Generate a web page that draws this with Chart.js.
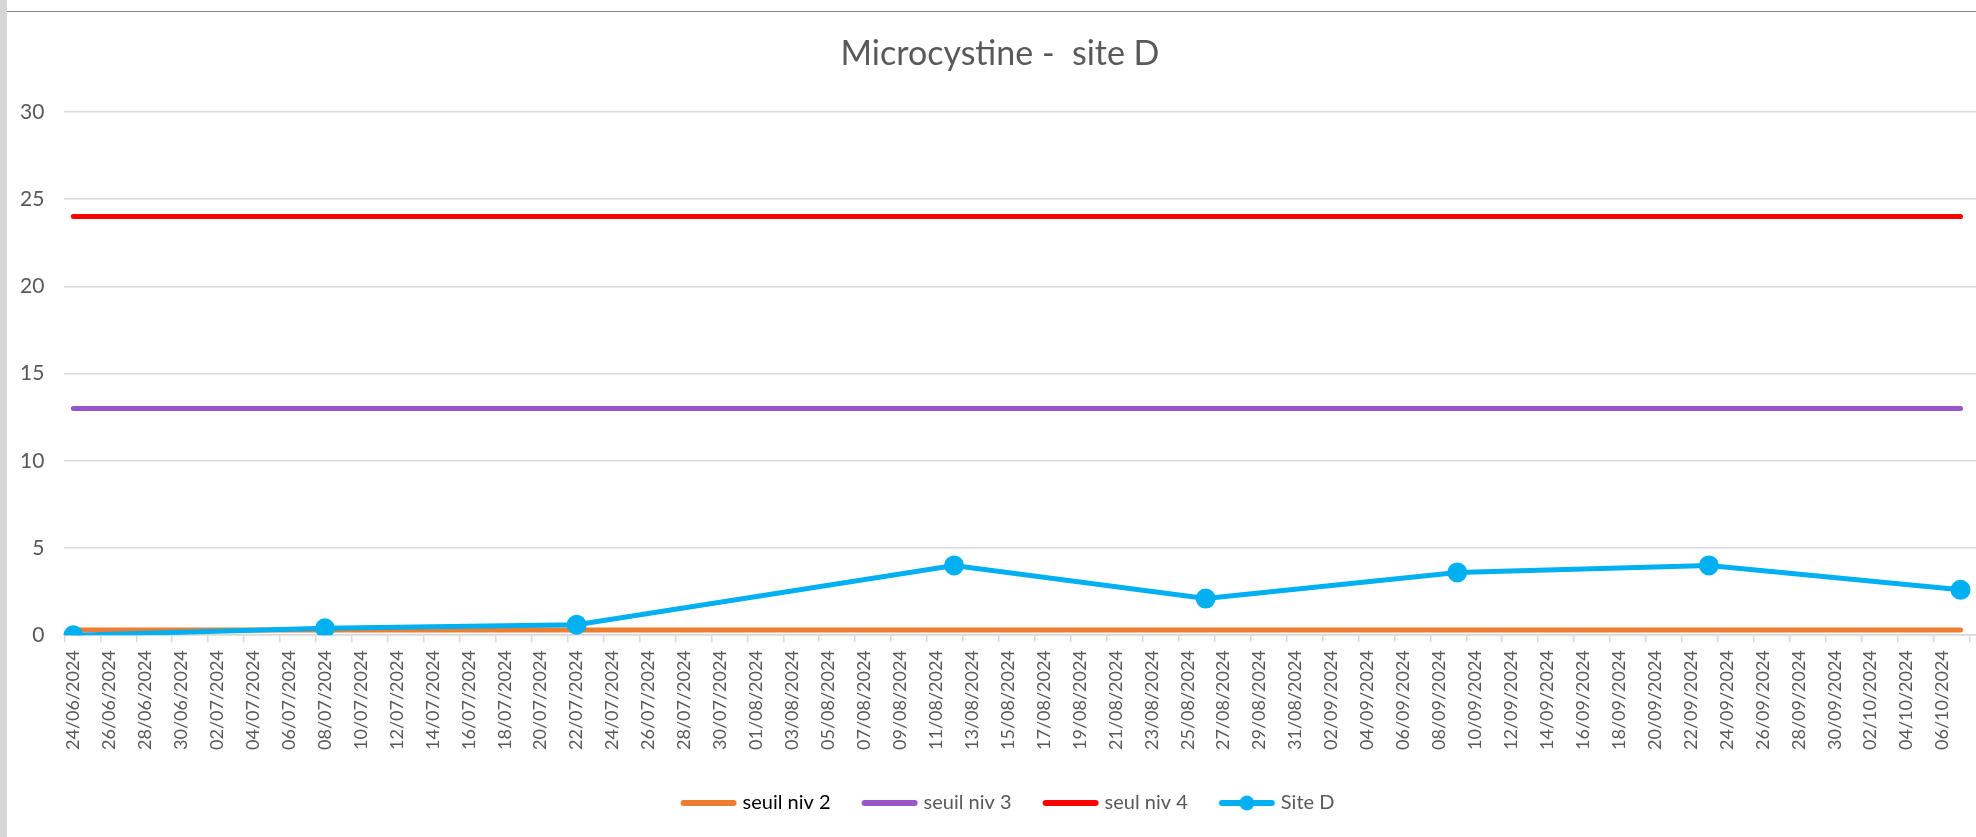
<!DOCTYPE html>
<html lang="fr">
<head>
<meta charset="utf-8">
<title>Microcystine - site D</title>
<script src="https://cdn.jsdelivr.net/npm/chart.js@4.4.1/dist/chart.umd.min.js"></script>
<style>
  html, body { margin: 0; padding: 0; background: #fff; }
  #wrap { position: relative; width: 1976px; height: 837px; overflow: hidden; }
  #strip { position: absolute; left: 0; top: 0; width: 7px; height: 837px; background: #d6d6d6; }
  #topline { position: absolute; left: 7px; right: 0; top: 11px; height: 0; border-top: 1px solid #8a8a8a; }
  canvas { position: absolute; left: 0; top: 0; }
</style>
</head>
<body>
<div id="wrap">
  <canvas id="grafico" width="2000" height="837"></canvas>
  <div id="strip"></div>
  <div id="topline"></div>
</div>
<script>
// axe des dates : un jour par catégorie, une étiquette sur deux
var premierJour = new Date(2024, 5, 24);
var dernierJour = new Date(2024, 9, 8);

// mesures site D
var datesSite = ['24/06/2024', '08/07/2024', '22/07/2024', '12/08/2024', '26/08/2024', '09/09/2024', '23/09/2024', '07/10/2024'];
var valeursSite = [0, 0.4, 0.6, 4.0, 2.1, 3.6, 4.0, 2.6];

// seuils (tracés du premier au dernier prélèvement)
var seuilNiv2 = 0.3;
var seuilNiv3 = 13;
var seuilNiv4 = 24;

var yTicks = [0, 5, 10, 15, 20, 25, 30];

var gris = '#595959';
var police = 'Lato, "Open Sans", sans-serif';

function fmt(d) {
    var j = ('0' + d.getDate()).slice(-2);
    var m = ('0' + (d.getMonth() + 1)).slice(-2);
    return j + '/' + m + '/' + d.getFullYear();
}

var jours = [];
for (var d = new Date(premierJour); d <= dernierJour; d.setDate(d.getDate() + 1)) {
    jours.push(fmt(d));
}
var debut = datesSite[0];
var fin = datesSite[datesSite.length - 1];
var idxFin = jours.indexOf(fin);

function ligneSeuil(v) {
    return [{ x: debut, y: v }, { x: fin, y: v }];
}

// petite image pour la légende (trait + rond éventuel), avec un blanc à gauche
function iconeLegende(couleur, rond) {
    var c = document.createElement('canvas');
    c.width = 84; c.height = 18;
    var g = c.getContext('2d');
    g.strokeStyle = couleur;
    g.lineWidth = 6;
    g.lineCap = 'round';
    g.beginPath(); g.moveTo(26.5, 9); g.lineTo(76.5, 9); g.stroke();
    if (rond) {
        g.fillStyle = couleur;
        g.beginPath(); g.arc(51.5, 9, 7.5, 0, Math.PI * 2); g.fill();
    }
    return c;
}

var series = [
    { label: 'seuil niv 2', data: ligneSeuil(seuilNiv2), couleur: '#ED7D31', pts: false, texte: '#000000' },
    { label: 'seuil niv 3', data: ligneSeuil(seuilNiv3), couleur: '#9A55C9', pts: false, texte: gris },
    { label: 'seul niv 4', data: ligneSeuil(seuilNiv4), couleur: '#FF0000', pts: false, texte: gris },
    { label: 'Site D', data: datesSite.map(function (x, i) { return { x: x, y: valeursSite[i] }; }), couleur: '#00B0F0', pts: true, texte: gris }
];

var datasets = series.map(function (s, i) {
    return {
        label: s.label,
        data: s.data,
        borderColor: s.couleur,
        backgroundColor: s.couleur,
        borderWidth: 5,
        borderCapStyle: 'round',
        pointRadius: s.pts ? 7.5 : 0,
        pointHoverRadius: s.pts ? 7.5 : 0,
        tension: 0,
        fill: false,
        order: s.pts ? 0 : 1
    };
});

var ctx = document.getElementById('grafico').getContext('2d');
var myChart = new Chart(ctx, {
    type: 'line',
    data: { labels: jours, datasets: datasets },
    options: {
        responsive: false,
        animation: false,
        layout: { padding: { left: 0, right: 0, top: 0, bottom: 14 } },
        scales: {
            x: {
                type: 'category',
                offset: true,
                afterFit: function (axis) {
                    axis.height += 19;
                    axis.paddingRight = 0; // l'axe continue hors du cadre à droite
                },
                grid: {
                    offset: true,
                    drawOnChartArea: false,
                    drawTicks: true,
                    tickLength: 7,
                    color: function (c) { return c.index % 2 === 0 ? '#d9d9d9' : 'rgba(0,0,0,0)'; },
                    lineWidth: 1.5
                },
                border: { display: true, color: '#d9d9d9', width: 1.5 },
                ticks: {
                    autoSkip: false,
                    minRotation: 90,
                    maxRotation: 90,
                    padding: 8,
                    color: gris,
                    font: { family: police, size: 18 },
                    callback: function (val, idx) {
                        return (idx % 2 === 0 && idx < idxFin) ? this.getLabelForValue(val) : '';
                    }
                }
            },
            y: {
                min: 0,
                max: 30,
                afterBuildTicks: function (axis) { axis.ticks = yTicks.map(function (v) { return { value: v }; }); },
                grid: { color: '#d9d9d9', lineWidth: 1.5, drawTicks: false },
                border: { display: false },
                ticks: {
                    padding: 20,
                    color: gris,
                    font: { family: police, size: 21 }
                }
            }
        },
        plugins: {
            title: {
                display: true,
                text: 'Microcystine -  site D',
                color: gris,
                font: { family: police, size: 34, weight: 'normal' },
                padding: { top: 34, bottom: 37 }
            },
            legend: {
                position: 'bottom',
                labels: {
                    usePointStyle: true,
                    pointStyleWidth: 67,
                    boxHeight: 18,
                    padding: 16,
                    font: { family: police, size: 20 },
                    color: gris,
                    sort: function (a, b) { return a.datasetIndex - b.datasetIndex; },
                    generateLabels: function (chart) {
                        return series.map(function (s, i) {
                            return {
                                text: s.label,
                                fillStyle: s.couleur,
                                strokeStyle: s.couleur,
                                lineWidth: 0,
                                pointStyle: iconeLegende(s.couleur, s.pts),
                                fontColor: s.texte,
                                hidden: false,
                                datasetIndex: i
                            };
                        });
                    }
                }
            },
            tooltip: { enabled: false }
        }
    }
});
</script>
</body>
</html>
